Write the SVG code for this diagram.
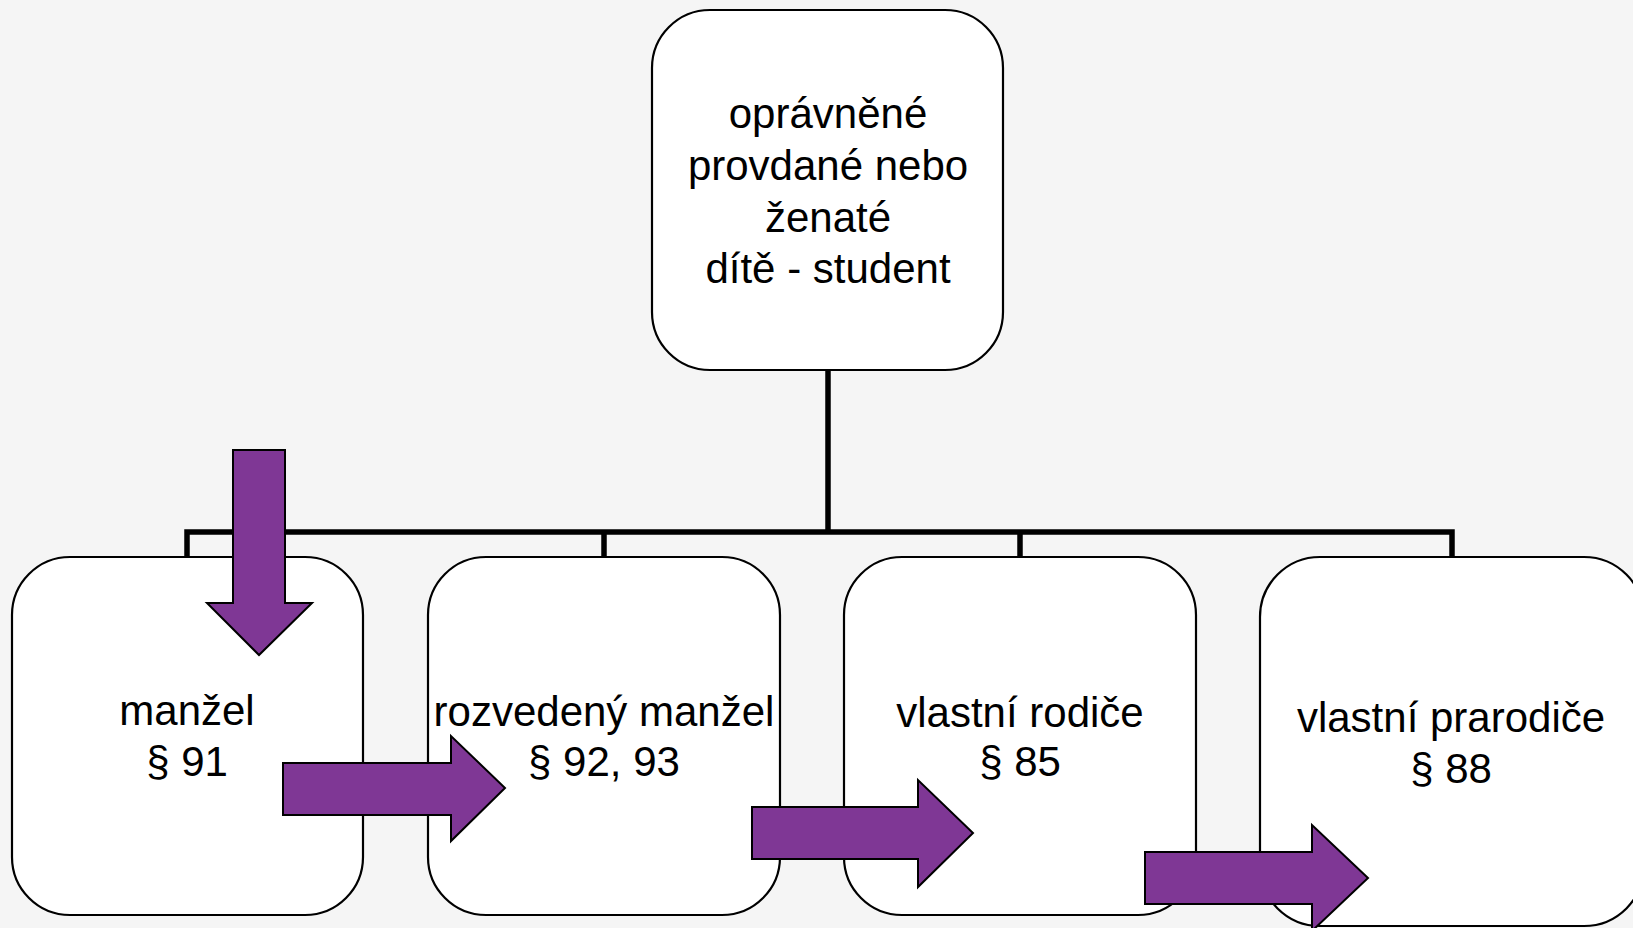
<svg xmlns="http://www.w3.org/2000/svg" width="1633" height="928" viewBox="0 0 1633 928">
<style>
.box{fill:#ffffff;stroke:#000000;stroke-width:2.2}
.conn{fill:none;stroke:#000000;stroke-width:5.5;stroke-linejoin:miter;stroke-linecap:butt}
.arrow{fill:#7f3795;stroke:#000000;stroke-width:2}
.lbl{font-family:"Liberation Sans",Arial,sans-serif;font-size:42px;fill:#000000;text-anchor:middle}
</style>
<rect x="0" y="0" width="1633" height="928" fill="#f5f5f5"/>
<g id="connectors">
<path class="conn" d="M828 369 V532 M187 557 V532 H1452 V557 M604 532 V557 M1020 532 V557"/>
</g>
<g id="node-top">
<rect class="box" x="652" y="10" width="351" height="360" rx="58" ry="58"/>
<text class="lbl" x="828" y="128">oprávněné</text>
<text class="lbl" x="828" y="180">provdané nebo</text>
<text class="lbl" x="828" y="232">ženaté</text>
<text class="lbl" x="828" y="283">dítě - student</text>
</g>
<g id="node-manzel">
<rect class="box" x="12" y="557" width="351" height="358" rx="58" ry="58"/>
<text class="lbl" x="187" y="725">manžel</text>
<text class="lbl" x="187" y="776">§ 91</text>
</g>
<g id="node-rozvedeny">
<rect class="box" x="428" y="557" width="352" height="358" rx="58" ry="58"/>
<text class="lbl" x="604" y="726">rozvedený manžel</text>
<text class="lbl" x="604" y="776">§ 92, 93</text>
</g>
<g id="node-rodice">
<rect class="box" x="844" y="557" width="352" height="358" rx="58" ry="58"/>
<text class="lbl" x="1020" y="727">vlastní rodiče</text>
<text class="lbl" x="1020" y="776">§ 85</text>
</g>
<g id="node-prarodice">
<rect class="box" x="1260" y="557" width="384" height="369" rx="60" ry="60"/>
<text class="lbl" x="1451" y="732">vlastní prarodiče</text>
<text class="lbl" x="1451" y="783">§ 88</text>
</g>
<g id="arrows">
<polygon class="arrow" points="233,450 285,450 285,603 312,603 259,655 207,603 233,603"/>
<polygon class="arrow" points="283,763 451,763 451,736 505,788 451,841 451,815 283,815"/>
<polygon class="arrow" points="752,807 918,807 918,780 973,833 918,887 918,859 752,859"/>
<polygon class="arrow" points="1145,852 1312,852 1312,825 1368,878 1312,931 1312,904 1145,904"/>
</g>
</svg>
